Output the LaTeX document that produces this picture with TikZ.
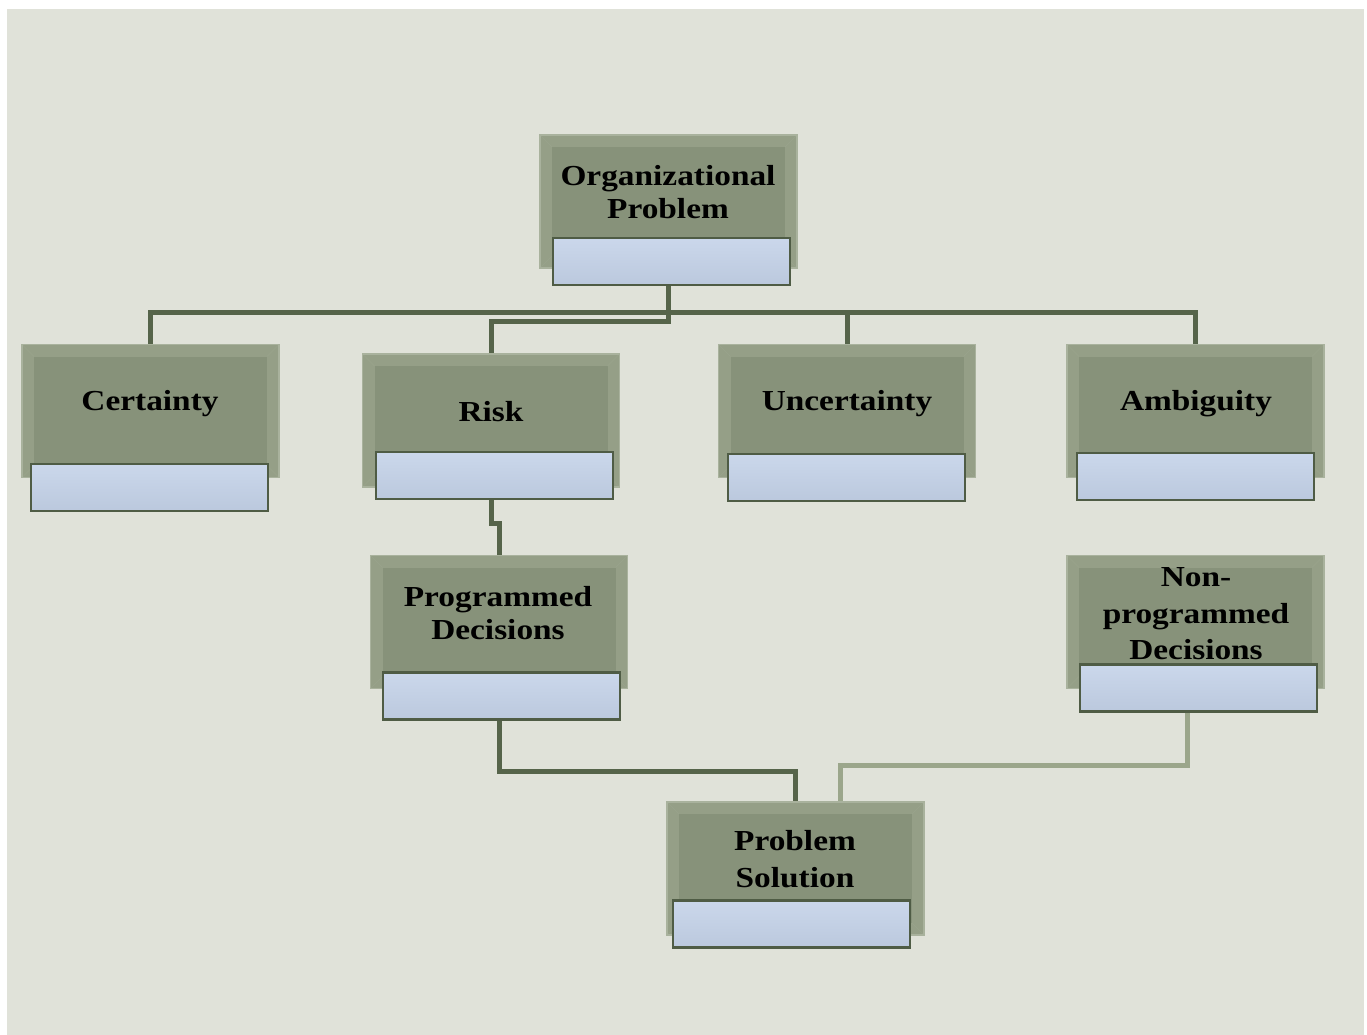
\documentclass[tikz,border=0pt]{standalone}
\usepackage{fontspec}
\setmainfont{Liberation Serif}[FakeStretch=1.15]
\usetikzlibrary{calc}
\pgfdeclarelayer{bg}
\pgfsetlayers{bg,main}
\definecolor{bgc}{HTML}{E0E2D9}
\definecolor{gout}{HTML}{959F87}
\definecolor{gin}{HTML}{87927A}
\definecolor{gedge}{HTML}{A9B29D}
\definecolor{bfill}{HTML}{C5D3E9}
\definecolor{bedge}{HTML}{4F5C45}
\definecolor{lnc}{HTML}{56644A}
\definecolor{lnl}{HTML}{9BA68B}
\tikzset{
  gbox/.style={rectangle, minimum width=257pt, minimum height=133pt, inner sep=0pt,
    fill=gout, draw=gedge, line width=1.5pt,
    path picture={
      \fill[gin] ($(path picture bounding box.south west)+(12pt,12pt)$) rectangle ($(path picture bounding box.north east)+(-12pt,-12pt)$);
      \draw[gedge!50!gin, line width=0.8pt] (path picture bounding box.south west) -- ++(12pt,12pt)
        (path picture bounding box.north west) -- ++(12pt,-12pt)
        (path picture bounding box.north east) -- ++(-12pt,-12pt)
        (path picture bounding box.south east) -- ++(-12pt,12pt);
    }},
  bbox/.style={rectangle, minimum width=237pt, minimum height=47pt, inner sep=0pt,
    top color=bfill!90!white, bottom color=bfill!95!black, draw=bedge, line width=2.5pt},
  lbl/.style={font=\fontsize{29}{33}\selectfont\bfseries, align=center, inner sep=0pt, text=black},
  conn/.style={draw=lnc, line width=5pt},
  connl/.style={draw=lnl, line width=5pt}
}
\begin{document}
\begin{tikzpicture}[x=1pt, y=-1pt]
\useasboundingbox (0,0) rectangle (1367,1035);
% boxes
\node[gbox] (og) at (668.5,201.5) {};
\node[bbox] (ob) at (671.5,261.5) {};
\node[lbl] (ot) at (668,192) {Organizational\\Problem};

\node[gbox] (cg) at (150.5,411) {};
\node[bbox] (cb) at (149.5,487.5) {};
\node[lbl] (ct) at (150,404) {Certainty};

\node[gbox] (rg) at (491,420.5) {};
\node[bbox] (rb) at (494.5,475.5) {};
\node[lbl] (rt) at (491,412) {Risk};

\node[gbox] (ug) at (847,411) {};
\node[bbox] (ub) at (846.5,477.5) {};
\node[lbl] (ut) at (847,404) {Uncertainty};

\node[gbox] (ag) at (1195.5,411) {};
\node[bbox] (ab) at (1195.5,476.5) {};
\node[lbl] (at) at (1196,404) {Ambiguity};

\node[gbox] (pg) at (499,622) {};
\node[bbox] (pb) at (501.5,696) {};
\node[lbl] (pt) at (498,613) {Programmed\\Decisions};

\node[gbox] (ng) at (1195.5,622) {};
\node[bbox] (nb) at (1198.5,688) {};
\node[lbl, font=\fontsize{29}{36.5}\selectfont\bfseries] (nt) at (1196,614) {Non-\\programmed\\Decisions};

\node[gbox] (sg) at (795.5,868.5) {};
\node[bbox] (sb) at (791.5,924) {};
\node[lbl, font=\fontsize{29}{37}\selectfont\bfseries] (st) at (795,859) {Problem\\Solution};

\begin{pgfonlayer}{bg}
\fill[white] (0,0) rectangle (1367,1035);
\fill[bgc] (7,9) rectangle (1364,1035);
% connectors
\coordinate (hub) at ($(og.south)+(0,44)$);
\draw[conn] (og.south) -- (hub);
\draw[conn] (cg.north) |- (hub) -| (ag.north);
\draw[conn] (ug.north) -- (ug.north |- hub);
\draw[conn] (og.south) -- ++(0,53) -| (rg.north);
\draw[conn] (rg.north |- rb.south) -- ++(0,23) -| (pg.north);
\draw[conn] (pg.south) -- ++(0,82) -| (sg.north);
\draw[connl] ([xshift=-11pt]nb.south) -- ++(0,53) -| ([xshift=45pt]sg.north);
\end{pgfonlayer}
\end{tikzpicture}
\end{document}
